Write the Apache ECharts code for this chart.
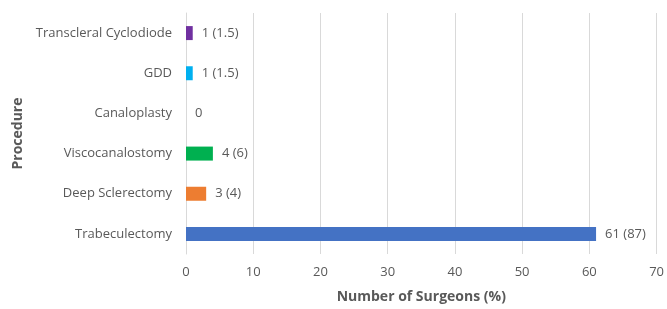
<!DOCTYPE html>
<html>
<head>
<meta charset="utf-8">
<script src="https://cdn.jsdelivr.net/npm/echarts@6/dist/echarts.min.js"></script>
<style>
  html, body { margin: 0; padding: 0; background: #fff; }
  #chart { width: 667px; height: 309px; }
</style>
</head>
<body>
<div id="chart"></div>
<script>
// data (bottom to top, as drawn)
const procedures = ["Trabeculectomy", "Deep Sclerectomy", "Viscocanalostomy", "Canaloplasty", "GDD", "Transcleral Cyclodiode"];
const surgeons = [61, 3, 4, 0, 1, 1];
const percents = ["87", "4", "6", "", "1.5", "1.5"];
const barColors = ["#4472C4", "#ED7D31", "#00B050", "#A5A5A5", "#00B0F0", "#7030A0"];

const font = "'Open Sans', sans-serif";
const textColor = "#595959";

const chart = echarts.init(document.getElementById("chart"));

chart.setOption({
  animation: false,
  grid: {
    top: 13,
    bottom: 52,
    left: 186,
    right: 9,
  },
  xAxis: {
    type: "value",
    min: 0,
    max: 70,
    interval: 10,
    name: "Number of Surgeons (%)",
    nameLocation: "middle",
    nameGap: 36,
    nameTextStyle: { fontFamily: font, fontSize: 14, fontWeight: "bold", color: textColor },
    axisLine: { show: false },
    axisTick: { show: false },
    axisLabel: { fontFamily: font, fontSize: 13, color: textColor, margin: 12 },
    splitLine: { lineStyle: { color: "#d9d9d9", width: 1 } },
  },
  yAxis: {
    type: "category",
    data: procedures,
    name: "Procedure",
    nameLocation: "middle",
    nameGap: 157,
    nameRotate: 90,
    nameTextStyle: { fontFamily: font, fontSize: 14, fontWeight: "bold", color: textColor },
    axisLine: { lineStyle: { color: "#d9d9d9" } },
    axisTick: { show: false },
    axisLabel: { fontFamily: font, fontSize: 13, color: textColor, margin: 14 },
  },
  series: [
    {
      type: "bar",
      barWidth: 14,
      data: surgeons.map((v, i) => ({ value: v, itemStyle: { color: barColors[i] } })),
      label: {
        show: true,
        position: "right",
        distance: 9,
        fontFamily: font,
        fontSize: 13,
        color: textColor,
        formatter: (p) => percents[p.dataIndex] ? `${p.value} (${percents[p.dataIndex]})` : `${p.value}`,
      },
      emphasis: { disabled: true },
    },
  ],
});
</script>
</body>
</html>
